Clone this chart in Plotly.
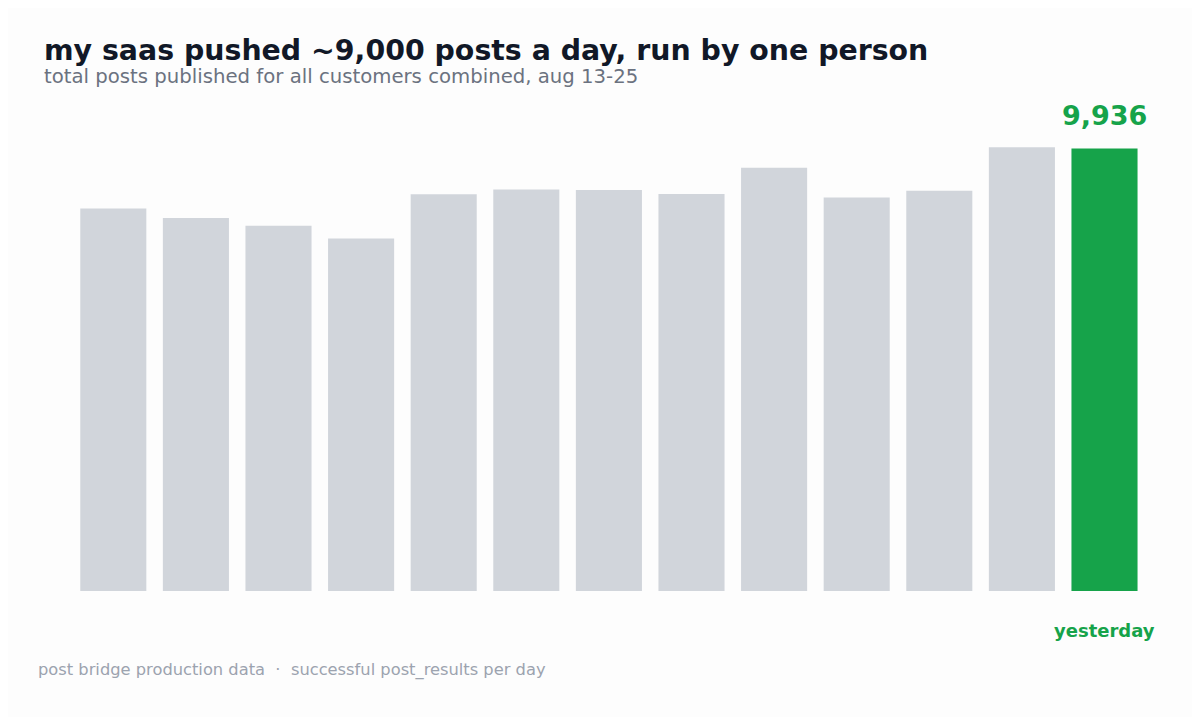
import plotly.graph_objects as go

# daily post counts, aug 13-25 (last day = yesterday)
days = ["aug 13", "aug 14", "aug 15", "aug 16", "aug 17", "aug 18", "aug 19",
        "aug 20", "aug 21", "aug 22", "aug 23", "aug 24", "aug 25"]
posts = [8589, 8371, 8198, 7915, 8908, 9016, 9000, 8912, 9501, 8836, 8984, 9959, 9936]
highlight_label = "yesterday"

GREY = "#d1d5db"
GREEN = "#16a34a"
BG = "#fdfdfd"
FONT = "DejaVu Sans"

W, H = 1200, 717
L, R, T, B = 64, 51, 93, 134
PW, PH = W - L - R, H - T - B


def px_x(x):
    # figure pixel -> paper x
    return (x - L) / PW


def px_y(y):
    # figure pixel (from top) -> paper y
    return (H - B - y) / PH


colors = [GREY] * (len(days) - 1) + [GREEN]

fig = go.Figure(
    go.Bar(
        x=days,
        y=posts,
        marker=dict(color=colors, line=dict(width=0)),
        hoverinfo="x+y",
    )
)

# value label above the last bar
fig.add_annotation(
    x=days[-1], y=posts[-1], xref="x", yref="y",
    text="<b>{:,}</b>".format(posts[-1]),
    showarrow=False, yanchor="bottom", yshift=15,
    font=dict(family=FONT, size=27, color=GREEN),
)
# "yesterday" under the last bar
fig.add_annotation(
    x=days[-1], y=0, xref="x", yref="y",
    text="<b>" + highlight_label + "</b>",
    showarrow=False, yanchor="middle", yshift=-39,
    font=dict(family=FONT, size=18, color=GREEN),
)
# subtitle
fig.add_annotation(
    x=px_x(34), y=px_y(68.5), xref="paper", yref="paper",
    text="total posts published for all customers combined, aug 13-25",
    showarrow=False, xanchor="left", yanchor="middle",
    font=dict(family=FONT, size=19.7, color="#6b7280"),
)
# footer
fig.add_annotation(
    x=px_x(28), y=px_y(662), xref="paper", yref="paper",
    text="post bridge production data  \u00b7  successful post_results per day",
    showarrow=False, xanchor="left", yanchor="middle",
    font=dict(family=FONT, size=16.3, color="#9ca3af"),
)

fig.update_layout(
    width=W,
    height=H,
    paper_bgcolor=BG,
    plot_bgcolor=BG,
    font=dict(family=FONT),
    title=dict(
        text="<b>my saas pushed ~9,000 posts a day, run by one person</b>",
        xref="container", yref="container",
        x=36 / W, y=1 - 42.5 / H, xanchor="left", yanchor="middle",
        font=dict(family=FONT, size=28.4, color="#111827"),
    ),
    margin=dict(l=L, r=R, t=T, b=B),
    bargap=0.2,
    showlegend=False,
    xaxis=dict(showticklabels=False, showgrid=False, zeroline=False,
               showline=False, ticks=""),
    yaxis=dict(range=[0, 11000], showticklabels=False, showgrid=False,
               zeroline=False, showline=False, ticks=""),
)

fig.write_html("out.html")
